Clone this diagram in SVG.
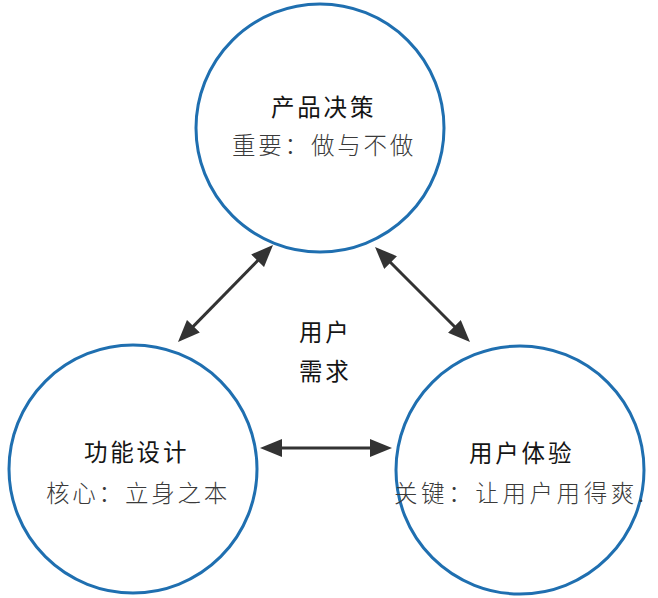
<svg xmlns="http://www.w3.org/2000/svg" width="658" height="598" viewBox="0 0 658 598">
<style>
.ring{fill:none;stroke:#1f6fb0;stroke-width:3}
.t{font-family:"Noto Sans CJK SC","Noto Sans",sans-serif;font-size:23.5px;letter-spacing:2.8px}
.h{fill:#151515;font-weight:400}
.s{fill:#3a3a3a;font-weight:300}
.c{stroke:#333;stroke-width:3;fill:none}
</style>
<defs>
<marker id="ah" viewBox="0 0 22 18" refX="11" refY="9" markerWidth="22" markerHeight="18" markerUnits="userSpaceOnUse" orient="auto-start-reverse">
<path d="M0,0 L22,9 L0,18 z" fill="#333"/>
</marker>
</defs>
<rect width="658" height="598" fill="#fff"/>
<g id="connectors">
<path class="c" d="M265.3,252.9 L185.7,334.1" marker-start="url(#ah)" marker-end="url(#ah)"/>
<path class="c" d="M382.8,254.8 L462.2,334.2" marker-start="url(#ah)" marker-end="url(#ah)"/>
<path class="c" d="M271,448 L381,448" marker-start="url(#ah)" marker-end="url(#ah)"/>
</g>
<g id="node-top">
<circle class="ring" cx="320" cy="128" r="124"/>
<text class="t h" x="271" y="116">产品决策</text>
<text class="t s" x="232" y="154">重要：做与不做</text>
</g>
<g id="node-left">
<circle class="ring" cx="133" cy="469" r="124"/>
<text class="t h" x="84" y="461">功能设计</text>
<text class="t s" x="46" y="502">核心：立身之本</text>
</g>
<g id="node-right">
<circle class="ring" cx="520" cy="470" r="124"/>
<text class="t h" x="469" y="462">用户体验</text>
<text class="t s" x="394" y="502" style="letter-spacing:3.6px">关键：让用户用得爽.</text>
</g>
<g id="center-label">
<text class="t h" x="299" y="341">用户</text>
<text class="t h" x="299" y="380">需求</text>
</g>
</svg>
